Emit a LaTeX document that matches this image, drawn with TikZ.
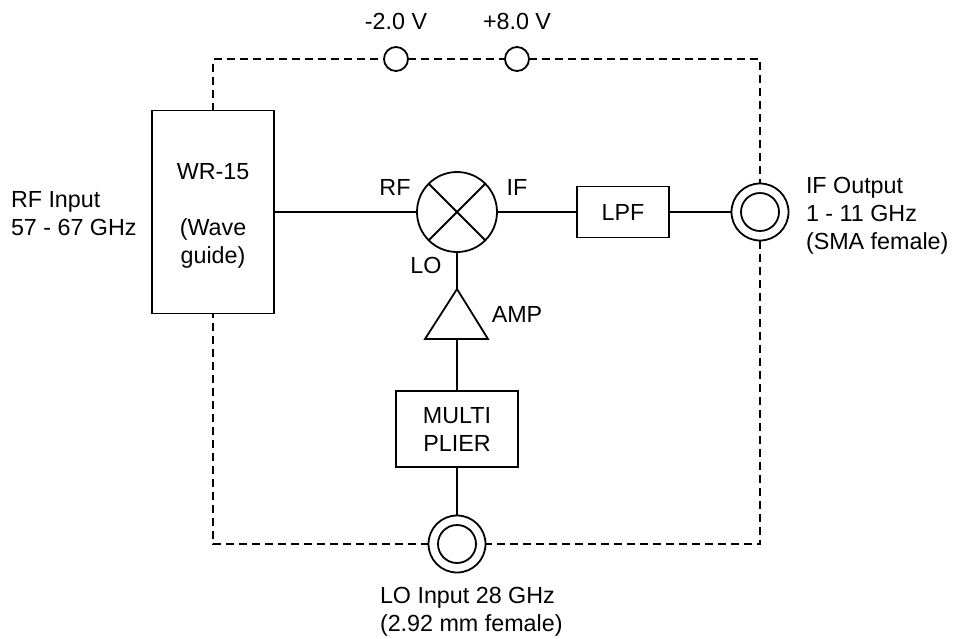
\documentclass[tikz,border=0pt]{standalone}
\usepackage{fontspec}
\setmainfont{Liberation Sans}
\begin{document}
\begin{tikzpicture}[x=1pt,y=-1pt,
  txt/.style={font=\fontsize{23.3}{28}\selectfont, inner sep=0pt, outer sep=0pt},
  blk/.style={draw, line width=1.8pt, fill=white, inner sep=0pt, outer sep=0pt,
    font=\fontsize{23.3}{28}\selectfont, align=center},
  wire/.style={line width=2.6pt},
  bias/.style={line width=1.7pt, dash pattern=on 8pt off 5pt},
  vport/.style={circle, draw, line width=1.8pt, fill=white, inner sep=0pt, outer sep=0pt, minimum size=24pt},
  coax/.style={circle, draw, line width=1.8pt, fill=white, inner sep=0pt, outer sep=0pt, minimum size=57pt},
  coaxin/.style={circle, draw, line width=1.8pt, inner sep=0pt, minimum size=38pt},
  shp/.style={line width=1.8pt}
]
\useasboundingbox (0,0) rectangle (953,638);

% blocks
\node[blk, minimum width=122pt, minimum height=203pt] (wg) at (213,212) {};
\node[txt, align=center] (wgt) at (213,216) {WR-15\\[28pt](Wave\\guide)};
\node[circle, draw, line width=1.8pt, fill=white, inner sep=0pt, outer sep=0pt, minimum size=80pt] (mix) at (457,212) {};
\draw[shp] (mix.north west) -- (mix.south east) (mix.north east) -- (mix.south west);
\node[blk, minimum width=92pt, minimum height=51pt] (lpf) at (623,212) {LPF};
\node[blk, minimum width=122pt, minimum height=76pt] (mult) at (457,429) {MULTI\\PLIER};

% amplifier triangle
\coordinate (ampT) at (457,289);
\coordinate (ampB) at (457,339);
\coordinate (ampL) at (425,339);
\coordinate (ampR) at (488,339);
\draw[shp, line join=miter] (ampT) -- (ampL) -- (ampR) -- cycle;

% connectors
\node[coax] (ifo) at (760,212) {};
\node[coaxin] (ifoi) at (ifo.center) {};
\node[coax] (loi) at (457,544) {};
\node[coaxin] (loii) at (loi.center) {};
\node[vport] (v1) at (396,59) {};
\node[vport] (v2) at (517,59) {};

% signal wires
\draw[wire] (wg.east) -- (mix.west);
\draw[wire] (mix.east) -- (lpf.west);
\draw[wire] (lpf.east) -- (ifo.west);
\draw[wire] (mix.south) -- (ampT);
\draw[wire] (ampB) -- (mult.north);
\draw[wire] (mult.south) -- (loi.north);

% housing outline
\draw[bias] (wg.north) |- (v1.west);
\draw[bias] (v1.east) -- (v2.west);
\draw[bias] (v2.east) -| (ifo.north);
\draw[bias] (ifo.south) |- (loi.east);
\draw[bias] (loi.west) -| (wg.south);

% labels
\node[txt] (lv1) at (396,21) {-2.0 V};
\node[txt] (lv2) at (517,21) {+8.0 V};
\node[txt] (lrf) at (395,187) {RF};
\node[txt] (lif) at (517,187) {IF};
\node[txt] (llo) at (426,265) {LO};
\node[txt] (lamp) at (517,314) {AMP};
\node[txt, anchor=west, align=left] (rfin) at (11,213.5) {RF Input\\57 - 67 GHz};
\node[txt, anchor=west, align=left] (ifout) at (806,216) {IF Output\\1 - 11 GHz\\(SMA female)};
\node[txt, anchor=west, align=left] (loin) at (380,611.5) {LO Input 28 GHz\\(2.92 mm female)};
\end{tikzpicture}
\end{document}
